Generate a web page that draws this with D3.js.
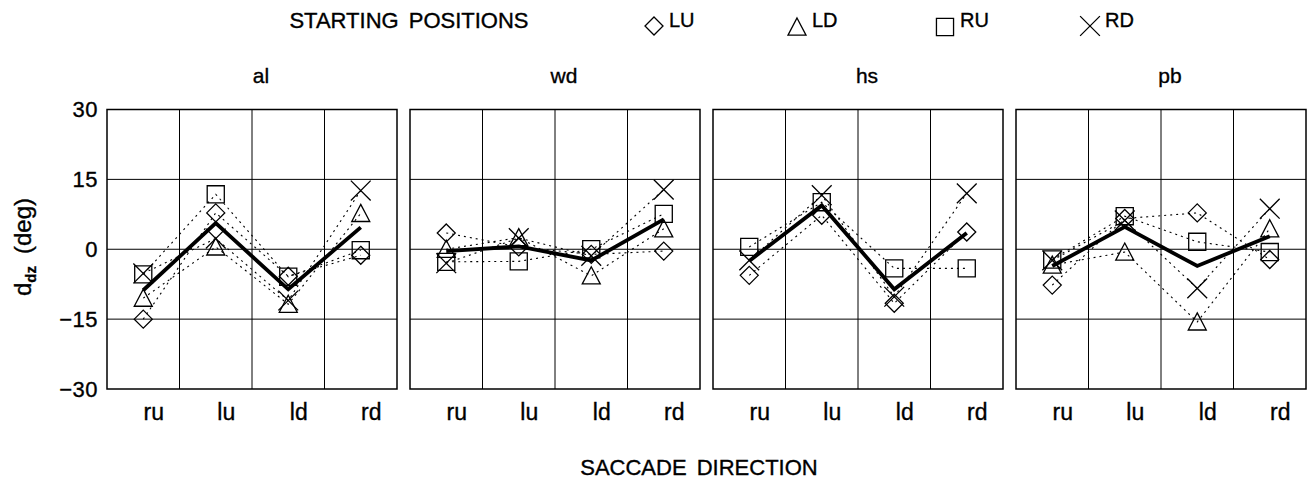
<!DOCTYPE html>
<html>
<head>
<meta charset="utf-8">
<script src="https://cdn.jsdelivr.net/npm/d3@7"></script>
<style>
  html, body { margin: 0; padding: 0; background: #fff; }
  svg { display: block; font-family: "Liberation Sans", Arial, sans-serif; }
  svg text { stroke: #000; stroke-width: 0.35px; fill: #000; }
</style>
</head>
<body>
<svg id="chart" width="1308" height="481"></svg>
<script>
// Saccade directions (x categories) and y tick values
const directions = ["ru", "lu", "ld", "rd"];
const yTicks = [-30, -15, 0, 15, 30];
const subjects = ["al", "wd", "hs", "pb"];
const startPositions = ["LU", "LD", "RU", "RD"];

// d_dz (deg) per starting position, one array per subject, order ru, lu, ld, rd
const alLU = [-15.0, 7.8, -5.8, -1.3];
const alLD = [-10.5, 0.5, -11.8, 7.7];
const alRU = [-5.4, 11.8, -5.9, -0.2];
const alRD = [-5.2, 2.3, -11.0, 12.6];
const alMean = [-8.8, 5.6, -8.6, 4.7];

const wdLU = [3.5, 0.5, -1.1, -0.4];
const wdLD = [0.0, 2.5, -5.7, 4.4];
const wdRU = [-2.7, -2.6, 0.0, 7.6];
const wdRD = [-3.0, 2.4, -1.4, 12.8];
const wdMean = [-0.4, 0.6, -2.4, 6.4];

const hsLU = [-5.6, 7.3, -11.6, 3.7];
const hsLD = null;
const hsRU = [0.5, 10.1, -4.1, -4.1];
const hsRD = [-2.4, 11.6, -10.2, 12.0];
const hsMean = [-2.5, 9.4, -8.6, 3.5];

const pbLU = [-7.7, 6.6, 7.8, -2.2];
const pbLD = [-3.4, -0.6, -15.6, 4.4];
const pbRU = [-2.2, 7.1, 1.6, -0.6];
const pbRD = [-2.4, 6.2, -8.4, 8.7];
const pbMean = [-3.6, 4.8, -3.6, 2.8];

const panels = [
  { name: subjects[0], series: { LU: alLU, LD: alLD, RU: alRU, RD: alRD }, mean: alMean },
  { name: subjects[1], series: { LU: wdLU, LD: wdLD, RU: wdRU, RD: wdRD }, mean: wdMean },
  { name: subjects[2], series: { LU: hsLU, LD: hsLD, RU: hsRU, RD: hsRD }, mean: hsMean },
  { name: subjects[3], series: { LU: pbLU, LD: pbLD, RU: pbRU, RD: pbRD }, mean: pbMean }
];

const svg = d3.select("#chart");

// Layout
const panelW = 290, panelGap = 13, firstLeft = 107;
const plotTop = 109.5, plotBottom = 389;
const y = d3.scaleLinear().domain([-30, 30]).range([plotBottom, plotTop]);
const xBand = d3.scaleBand().domain(directions).range([0, panelW]);
const xPt = d3.scalePoint().domain(directions).range([0, panelW]).padding(0.5);
const minus = v => (v < 0 ? "\u2212" + Math.abs(v) : String(v));

// Marker shapes
const symbolPath = {
  LU: s => `M0,${-s}L${s},0L0,${s}L${-s},0Z`,
  LD: s => `M0,${-s}L${s},${s * 0.9}L${-s},${s * 0.9}Z`,
  RU: s => `M${-s * 0.95},${-s * 0.95}H${s * 0.95}V${s * 0.95}H${-s * 0.95}Z`,
  RD: s => `M${-s * 1.1},${-s * 1.1}L${s * 1.1},${s * 1.1}M${s * 1.1},${-s * 1.1}L${-s * 1.1},${s * 1.1}`
};
function drawMarker(g, key, cx, cy, s) {
  g.append("path")
    .attr("transform", `translate(${cx},${cy})`)
    .attr("d", symbolPath[key](s))
    .attr("fill", "none")
    .attr("stroke", "#000")
    .attr("stroke-width", 1.3);
}

// Header: legend of starting positions
svg.append("text")
  .attr("x", 409).attr("y", 28)
  .attr("text-anchor", "middle")
  .attr("font-size", 22)
  .attr("word-spacing", 4)
  .text("STARTING POSITIONS");

const legendX = [654, 797, 945, 1090];
const legendY = [26, 27, 27, 26];
startPositions.forEach((k, i) => {
  drawMarker(svg, k, legendX[i], legendY[i], 9);
  svg.append("text")
    .attr("x", legendX[i] + 15).attr("y", 27)
    .attr("font-size", 20)
    .text(k);
});

const line = d3.line().x((d, i) => xPt(directions[i])).y(d => y(d));

panels.forEach((p, pi) => {
  const left = firstLeft + pi * (panelW + panelGap);
  const g = svg.append("g").attr("transform", `translate(${left},0)`);

  // Grid
  directions.slice(1).forEach(c => {
    g.append("line")
      .attr("x1", xBand(c)).attr("x2", xBand(c))
      .attr("y1", plotTop).attr("y2", plotBottom)
      .attr("stroke", "#000").attr("stroke-width", 1);
  });
  [-15, 0, 15].forEach(v => {
    g.append("line")
      .attr("x1", 0).attr("x2", panelW)
      .attr("y1", y(v)).attr("y2", y(v))
      .attr("stroke", "#000").attr("stroke-width", 1);
  });
  g.append("rect")
    .attr("x", 0).attr("y", plotTop)
    .attr("width", panelW).attr("height", plotBottom - plotTop)
    .attr("fill", "none").attr("stroke", "#000").attr("stroke-width", 1.5);

  // Dotted lines for each starting position
  startPositions.forEach(k => {
    const vals = p.series[k];
    if (!vals) return;
    g.append("path")
      .attr("d", line(vals))
      .attr("fill", "none")
      .attr("stroke", "#000")
      .attr("stroke-width", 1.1)
      .attr("stroke-dasharray", "2,4");
  });

  // Mean line
  g.append("path")
    .attr("d", line(p.mean))
    .attr("fill", "none")
    .attr("stroke", "#000")
    .attr("stroke-width", 3.8)
    .attr("stroke-linejoin", "miter");

  // Markers
  startPositions.forEach(k => {
    const vals = p.series[k];
    if (!vals) return;
    vals.forEach((v, i) => drawMarker(g, k, xPt(directions[i]), y(v), 9));
  });

  // Panel title
  g.append("text")
    .attr("x", panelW / 2 + 9).attr("y", 83)
    .attr("text-anchor", "middle")
    .attr("font-size", 21)
    .text(p.name);

  // x axis labels
  const xAxis = d3.axisBottom(xPt).tickSize(0).tickPadding(0);
  const ax = g.append("g").attr("transform", `translate(0,${plotBottom})`).call(xAxis);
  ax.select(".domain").remove();
  ax.selectAll("text")
    .attr("font-family", "Liberation Sans, Arial, sans-serif")
    .attr("font-size", 23)
    .attr("dy", 0)
    .attr("y", 31)
    .attr("x", 10);

  // y axis on first panel
  if (pi === 0) {
    const yAxis = d3.axisLeft(y).tickValues(yTicks).tickSize(0).tickPadding(9).tickFormat(minus);
    const ay = g.append("g").call(yAxis);
    ay.select(".domain").remove();
    ay.selectAll("text")
      .attr("font-family", "Liberation Sans, Arial, sans-serif")
      .attr("font-size", 22)
      .attr("letter-spacing", 0.5);
  }
});

// Axis titles
const yTitle = svg.append("text")
  .attr("transform", "translate(31,247) rotate(-90)")
  .attr("text-anchor", "middle")
  .attr("font-size", 24);
yTitle.append("tspan").text("d");
yTitle.append("tspan").attr("font-size", 15).attr("font-weight", "bold").attr("dy", 5).text("dz");
yTitle.append("tspan").attr("dy", -5).text("\u2002(deg)");

svg.append("text")
  .attr("x", 699).attr("y", 475)
  .attr("text-anchor", "middle")
  .attr("font-size", 22)
  .attr("word-spacing", 4)
  .text("SACCADE DIRECTION");
</script>
</body>
</html>
